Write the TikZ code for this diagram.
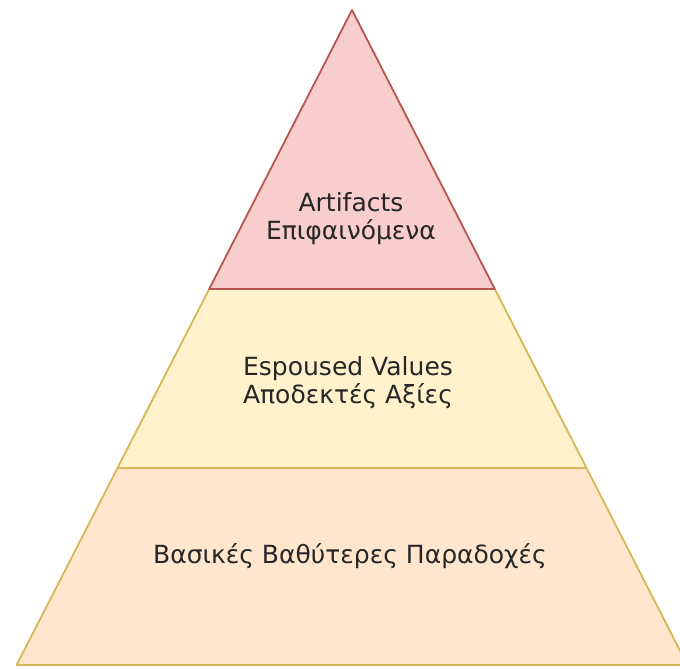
\documentclass[tikz,border=0pt]{standalone}
\usepackage{fontspec}
\setmainfont{DejaVu Sans}
\usetikzlibrary{calc}
\definecolor{TopRed}{HTML}{F8CECC}
\definecolor{TopRedLine}{HTML}{B85450}
\definecolor{MidYellow}{HTML}{FFF2CC}
\definecolor{MidYellowLine}{HTML}{D6B656}
\definecolor{BaseOrange}{HTML}{FFE6CC}
\definecolor{BaseOrangeLine}{HTML}{D6B656}
\tikzset{
  layer/.style={line width=1.8pt,line join=round},
  toplayer/.style={layer,fill=TopRed,draw=TopRedLine},
  midlayer/.style={layer,fill=MidYellow,draw=MidYellowLine},
  baselayer/.style={layer,fill=BaseOrange,draw=BaseOrangeLine},
  layertext/.style={font=\fontsize{25}{28}\selectfont,text=black!85,
    align=center,inner sep=0pt},
}

\begin{document}
\begin{tikzpicture}[x=1pt,y=-1pt]
    \useasboundingbox (0,0) rectangle (680,669);
    \clip (0,0) rectangle (680,669);
    % corners of the pyramid
    \coordinate (apex) at (352,10);
    \coordinate (tl) at (209.2,289);
    \coordinate (tr) at (494.8,289);
    \coordinate (ml) at (117.5,468);
    \coordinate (mr) at (586.5,468);
    \coordinate (bl) at (16.6,665);
    \coordinate (br) at (687.4,665);
    % layers, bottom first
    \draw[baselayer] (ml) -- (mr) -- (br) -- (bl) -- cycle;
    \draw[midlayer] (tl) -- (tr) -- (mr) -- (ml) -- cycle;
    \draw[toplayer] (apex) -- (tr) -- (tl) -- cycle;
    % labels
    \node[layertext] (artifacts) at (351,219) {Artifacts\\Επιφαινόμενα};
    \node[layertext] (values) at (348,383) {Espoused Values\\Αποδεκτές Αξίες};
    \node[layertext] (assumptions) at (350,556) {Βασικές Βαθύτερες Παραδοχές};
\end{tikzpicture}
\end{document}
